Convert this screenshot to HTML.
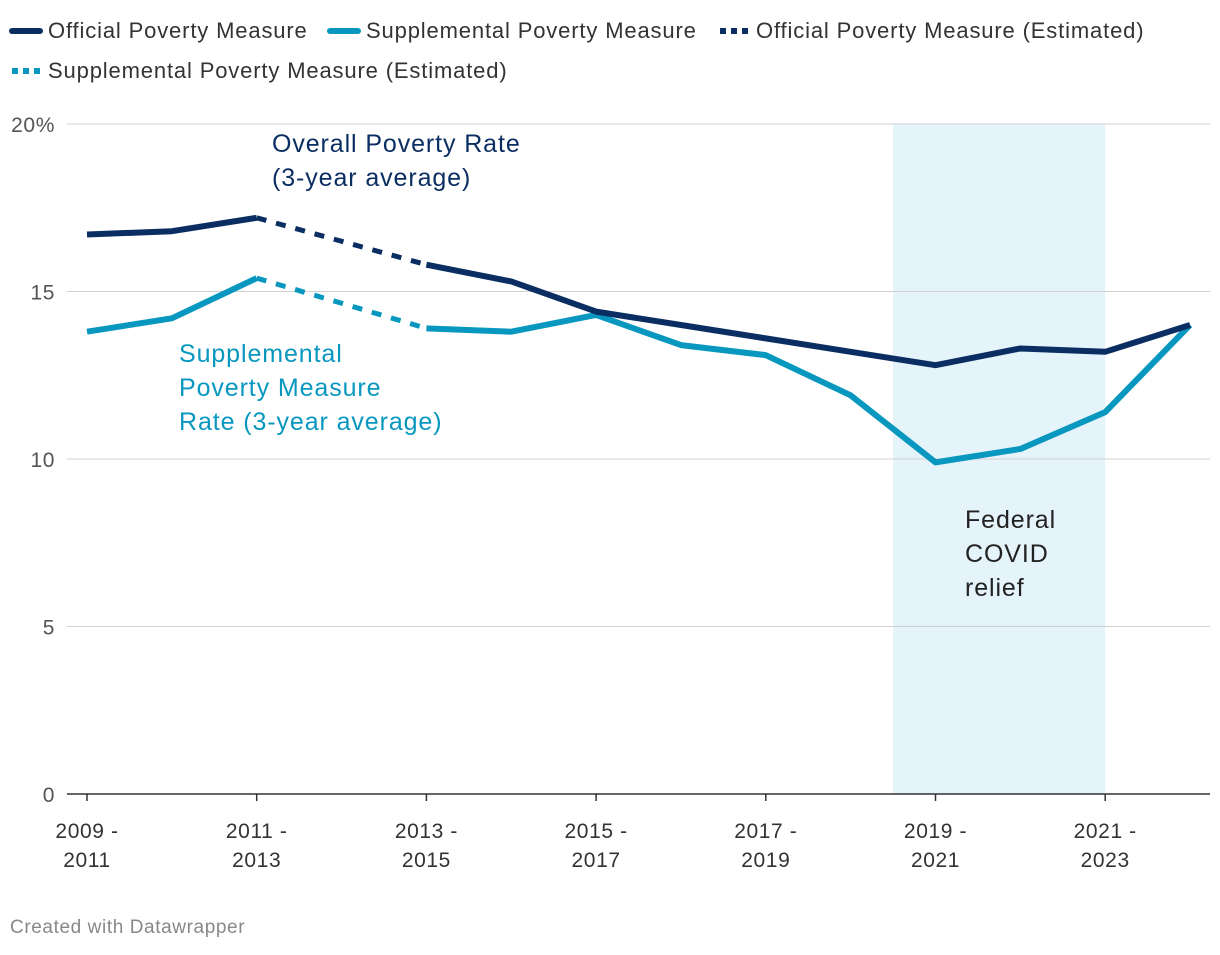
<!DOCTYPE html>
<html><head><meta charset="utf-8"><style>
body{margin:0;background:#fff;font-family:"Liberation Sans",sans-serif;}
svg text{font-family:"Liberation Sans",sans-serif;}
</style></head><body>
<svg width="1220" height="950" xmlns="http://www.w3.org/2000/svg">
<g>
 <g><line x1="12" y1="31" x2="40" y2="31" stroke="#0b2e62" stroke-width="6" stroke-linecap="round"/><text x="48" y="38" font-size="22" letter-spacing="0.85" fill="#333">Official Poverty Measure</text></g>
 <g><line x1="330" y1="31" x2="358" y2="31" stroke="#0897bf" stroke-width="6" stroke-linecap="round"/><text x="366" y="38" font-size="22" letter-spacing="0.85" fill="#333">Supplemental Poverty Measure</text></g>
 <g><line x1="720" y1="31" x2="748" y2="31" stroke="#0b2e62" stroke-width="6" stroke-dasharray="6,5"/><text x="756" y="38" font-size="22" letter-spacing="0.85" fill="#333">Official Poverty Measure (Estimated)</text></g>
 <g><line x1="12" y1="71" x2="40" y2="71" stroke="#0897bf" stroke-width="6" stroke-dasharray="6,5"/><text x="48" y="78" font-size="22" letter-spacing="0.85" fill="#333">Supplemental Poverty Measure (Estimated)</text></g>
</g>
<g id="plot"></g>
<text x="10" y="933" font-size="19" letter-spacing="0.6" fill="#888">Created with Datawrapper</text>
</svg>
<script>
const categories=["2009 -|2011","","2011 -|2013","","2013 -|2015","","2015 -|2017","","2017 -|2019","","2019 -|2021","","2021 -|2023",""];
const officialValues=[16.7,16.8,17.2,null,15.8,15.3,14.4,14.0,13.6,13.2,12.8,13.3,13.2,14.0];
const supplementalValues=[13.8,14.2,15.4,null,13.9,13.8,14.3,13.4,13.1,11.9,9.9,10.3,11.4,14.0];
const yTicks=[0,5,10,15,20];
const yTickLabels=["0","5","10","15","20%"];
const shadeRange=[9.5,12];
const NS="http://www.w3.org/2000/svg";
const g=document.getElementById('plot');
const x=i=>87+i*84.85;
const y=v=>794-v*33.5;
function el(t,a,p){const e=document.createElementNS(NS,t);for(const k in a)e.setAttribute(k,a[k]);(p||g).appendChild(e);return e;}
const sh=el('rect',{x:x(shadeRange[0]),y:y(20),width:x(shadeRange[1])-x(shadeRange[0]),height:y(0)-y(20),fill:'#e5f3fa'});


yTicks.forEach((v,k)=>{
 const l=el('line',{x1:67,x2:1210,y1:y(v),y2:y(v),stroke:v===0?'#333':'#d0d0d0','stroke-width':v===0?1.5:1});
 
 
 const t=el('text',{x:55,y:y(v)+8,'font-size':21,'letter-spacing':0.6,fill:'#555','text-anchor':'end'});
 t.textContent=yTickLabels[k];
 
 
});
categories.forEach((c,i)=>{
 if(!c)return;
 el('line',{x1:x(i),x2:x(i),y1:794,y2:801,stroke:'#333','stroke-width':1.5});
 const [a,b]=c.split('|');
 const t=el('text',{x:x(i),y:838,'font-size':21,'letter-spacing':0.6,fill:'#333','text-anchor':'middle'});
 
 
 const s1=el('tspan',{x:x(i),dy:0},t);s1.textContent=a;
 const s2=el('tspan',{x:x(i),dy:29},t);s2.textContent=b;
});
function series(vals,color,name){
 const pts=i=>x(i)+','+y(vals[i]);
 const solid=[[0,1,2],[4,5,6,7,8,9,10,11,12,13]];
 solid.forEach(seg=>{
  const p=el('polyline',{points:seg.map(pts).join(' '),fill:'none',stroke:color,'stroke-width':6,'stroke-linejoin':'round'});
  
  
 });
 const d=el('line',{x1:x(2),y1:y(vals[2]),x2:x(4),y2:y(vals[4]),stroke:color,'stroke-width':5,'stroke-dasharray':'10,10'});
 
 
}
series(supplementalValues,'#0897bf','supplemental');
series(officialValues,'#0b2e62','official');
function label(lines,x0,y0,color,name){
 const t=el('text',{x:x0,y:y0,'font-size':25,'letter-spacing':0.9,fill:color});
 
 
 lines.forEach((s,k)=>{const sp=el('tspan',{x:x0,dy:k?34:0},t);sp.textContent=s;});
}
label(["Overall Poverty Rate","(3-year average)"],272,152,'#0b2e62','official-annotation');
label(["Supplemental","Poverty Measure","Rate (3-year average)"],179,362,'#0897bf','supplemental-annotation');
label(["Federal","COVID","relief"],965,528,'#222','covid-annotation');
</script>
</body></html>
